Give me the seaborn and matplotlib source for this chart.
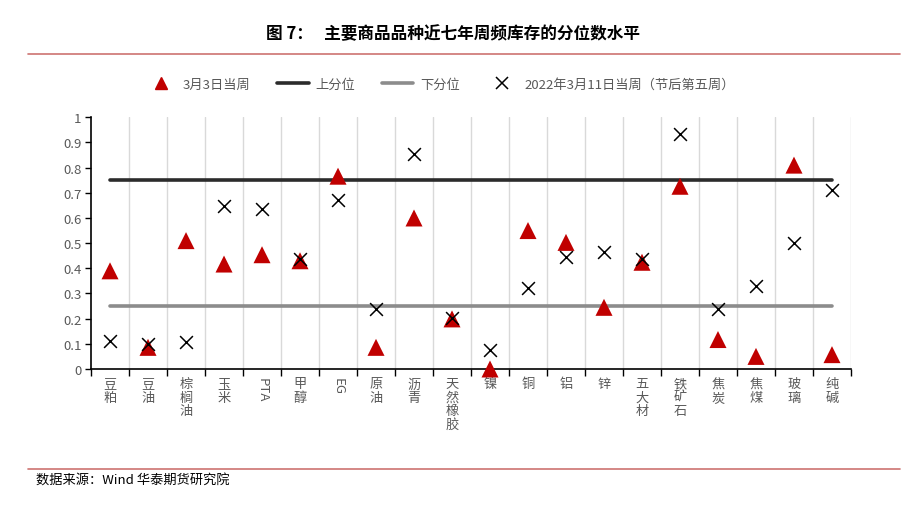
import matplotlib
matplotlib.use("Agg")
import matplotlib.pyplot as plt
from matplotlib.lines import Line2D
import seaborn as sns
import pandas as pd
import numpy as np

categories = ["豆粕", "豆油", "棕榈油", "玉米", "PTA", "甲醇", "EG", "原油", "沥青", "天然橡胶",
              "镍", "铜", "铝", "锌", "五大材", "铁矿石", "焦炭", "焦煤", "玻璃", "纯碱"]
week_0303 = [0.39, 0.086, 0.51, 0.417, 0.454, 0.43, 0.766, 0.086, 0.60, 0.199,
             0.0, 0.55, 0.503, 0.245, 0.424, 0.726, 0.117, 0.05, 0.81, 0.057]
week_0311 = [0.113, 0.10, 0.106, 0.649, 0.636, 0.437, 0.67, 0.238, 0.854, 0.203,
             0.077, 0.32, 0.444, 0.466, 0.437, 0.934, 0.238, 0.328, 0.50, 0.711]
upper_q = [0.75] * len(categories)
lower_q = [0.25] * len(categories)
yticks = [0, 0.1, 0.2, 0.3, 0.4, 0.5, 0.6, 0.7, 0.8, 0.9, 1]

sns.set_theme(style="white")
plt.rcParams['font.family'] = ['Noto Sans CJK SC', 'DejaVu Sans']
plt.rcParams['axes.unicode_minus'] = False

df = pd.DataFrame({"cat": categories, "w1": week_0303, "w2": week_0311,
                   "up": upper_q, "lo": lower_q})

fig = plt.figure(figsize=(9.03, 5.06), dpi=100)
ax = fig.add_axes([0.1008, 0.2688, 0.8416, 0.4974])

gray_txt = "#595959"
sns.lineplot(data=df, x="cat", y="up", ax=ax, color="#2b2b2b", lw=2.6, sort=False)
sns.lineplot(data=df, x="cat", y="lo", ax=ax, color="#8c8c8c", lw=2.6, sort=False)
sns.scatterplot(data=df, x="cat", y="w1", ax=ax, marker="^", s=150, color="#c00000",
                edgecolor="none", zorder=4, clip_on=False)
sns.scatterplot(data=df, x="cat", y="w2", ax=ax, marker="x", s=85, color="black",
                linewidth=1.1, zorder=5, clip_on=False)

n = len(categories)
ax.set_xlim(-0.5, n - 0.5)
ax.set_ylim(0, 1)
ax.set_yticks(yticks)
ax.set_yticklabels([f"{v:g}" for v in yticks], color=gray_txt, fontsize=9.5)
ax.set_xlabel("")
ax.set_ylabel("")

ax.set_xticks(np.arange(n))
labels = []
for c in categories:
    labels.append(c if c.isascii() else "\n".join(c))
ax.set_xticklabels(labels, color=gray_txt, fontsize=9.5, va="top", linespacing=1.05)
for lab, c in zip(ax.get_xticklabels(), categories):
    if c.isascii():
        lab.set_rotation(-90)
ax.tick_params(axis="x", which="major", length=0, pad=6)
ax.set_xticks(np.arange(n + 1) - 0.5, minor=True)
ax.tick_params(axis="x", which="minor", length=5, width=1, color="black", direction="out", bottom=True)
ax.tick_params(axis="y", which="major", length=4, width=1, color="black", direction="out", left=True, pad=3)
ax.grid(False)
for xv in np.arange(1, n + 1) - 0.5:
    ax.axvline(xv, color="#d9d9d9", lw=1, zorder=0)

for s in ["top", "right"]:
    ax.spines[s].set_visible(False)
for s in ["left", "bottom"]:
    ax.spines[s].set_color("black")
    ax.spines[s].set_linewidth(1.2)
    ax.spines[s].set_zorder(3)

handles = [
    Line2D([], [], marker="^", color="#c00000", ls="none", markersize=9),
    Line2D([], [], color="#2b2b2b", lw=2.6),
    Line2D([], [], color="#8c8c8c", lw=2.6),
    Line2D([], [], marker="x", color="black", ls="none", markersize=8, markeredgewidth=1.1),
]
leg_labels = ["3月3日当周", "上分位", "下分位", "2022年3月11日当周（节后第五周）"]
fig.legend(handles, leg_labels, loc="center", bbox_to_anchor=(0.487, 0.832), ncol=4,
           frameon=False, fontsize=9.5, labelcolor=gray_txt, handlelength=2.4,
           columnspacing=2.0, handletextpad=0.5)

fig.text(0.502, 0.932, "图 7：   主要商品品种近七年周频库存的分位数水平", ha="center", va="center",
         fontsize=12, fontweight="bold", color="black")
fig.add_artist(Line2D([0.031, 0.997], [0.891, 0.891], color="#c0504d", lw=1.2, alpha=0.8))
fig.add_artist(Line2D([0.031, 0.997], [0.072, 0.072], color="#c0504d", lw=1.2, alpha=0.8))
fig.text(0.040, 0.050, "数据来源：Wind 华泰期货研究院", ha="left", va="center", fontsize=9.5, color="black")

fig.savefig("out.png", dpi=100)
